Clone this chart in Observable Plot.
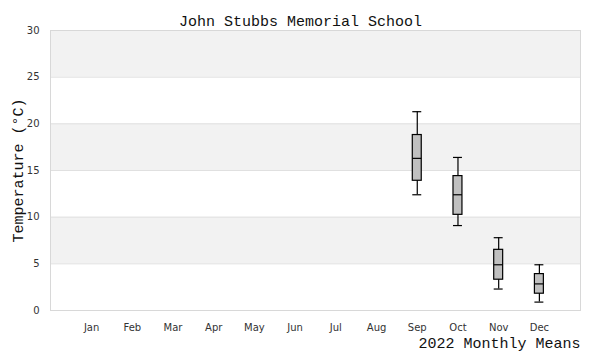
<!DOCTYPE html>
<html>
<head>
<meta charset="utf-8">
<script src="https://cdn.jsdelivr.net/npm/d3@7"></script>
<script src="https://cdn.jsdelivr.net/npm/@observablehq/plot@0.6"></script>
<style>
  html, body { margin: 0; padding: 0; background: #fff; }
</style>
</head>
<body>
<div id="chart"></div>
<script>
const title = "John Stubbs Memorial School";
const caption = "2022 Monthly Means";
const yLabel = "Temperature (°C)";
const months = ["Jan","Feb","Mar","Apr","May","Jun","Jul","Aug","Sep","Oct","Nov","Dec"];
const boxMonths = ["Sep","Oct","Nov","Dec"];
const whiskerLow = [12.4, 9.1, 2.3, 0.9];
const q1 = [13.9, 10.25, 3.3, 1.8];
const median = [16.3, 12.4, 4.9, 2.85];
const q3 = [18.8, 14.4, 6.5, 3.9];
const whiskerHigh = [21.3, 16.4, 7.8, 4.9];
const yTicks = [0, 5, 10, 15, 20, 25, 30];

const boxes = boxMonths.map((m, i) => ({
  month: m, lo: whiskerLow[i], q1: q1[i], med: median[i], q3: q3[i], hi: whiskerHigh[i]
}));
const bands = yTicks.slice(0, -1).filter((t, i) => i % 2 === 1).map(t => ({y1: t, y2: t + 5}));

const mono = "Liberation Mono, DejaVu Sans Mono, monospace";

const chart = Plot.plot({
  width: 600,
  height: 360,
  marginTop: 30,
  marginBottom: 50,
  marginLeft: 50,
  marginRight: 20,
  style: {fontFamily: "DejaVu Sans, sans-serif", fontSize: "10px", color: "#333", background: "#fff"},
  x: {type: "band", domain: months, round: false, paddingInner: 0.78, paddingOuter: 0.9, label: null, tickSize: 0, tickPadding: 13},
  y: {domain: [0, 30], ticks: yTicks, label: null, tickSize: 0, tickPadding: 11},
  marks: [
    Plot.rectY(bands, {y1: "y1", y2: "y2", fill: "#f2f2f2", x1: () => months[0], x2: () => months[0], insetLeft: -1000, insetRight: -1000, clip: "frame"}),
    Plot.ruleY(yTicks, {stroke: "#e0e0e0", strokeWidth: 1}),
    Plot.frame({stroke: "#d8d8d8"}),
    Plot.ruleX(boxes, {x: "month", y1: "lo", y2: "hi", stroke: "#000", strokeWidth: 1.2}),
    Plot.barY(boxes, {x: "month", y1: "q1", y2: "q3", fill: "#c0c0c0", stroke: "#000", strokeWidth: 1.2}),
    Plot.tickY(boxes, {x: "month", y: "med", stroke: "#000", strokeWidth: 1.2}),
    Plot.tickY(boxes, {x: "month", y: "lo", stroke: "#000", strokeWidth: 1.2}),
    Plot.tickY(boxes, {x: "month", y: "hi", stroke: "#000", strokeWidth: 1.2}),
    Plot.text([title], {frameAnchor: "top", dy: -15, dx: -15, fontFamily: mono, fontSize: 15, fill: "#111"}),
    Plot.text([caption], {frameAnchor: "bottom-right", dy: 37, dx: 0, textAnchor: "end", fontFamily: mono, fontSize: 15, fill: "#111"}),
    Plot.text([yLabel], {frameAnchor: "left", dx: -32, rotate: -90, textAnchor: "middle", fontFamily: mono, fontSize: 15, fill: "#111"})
  ]
});
document.getElementById("chart").appendChild(chart);
</script>
</body>
</html>
